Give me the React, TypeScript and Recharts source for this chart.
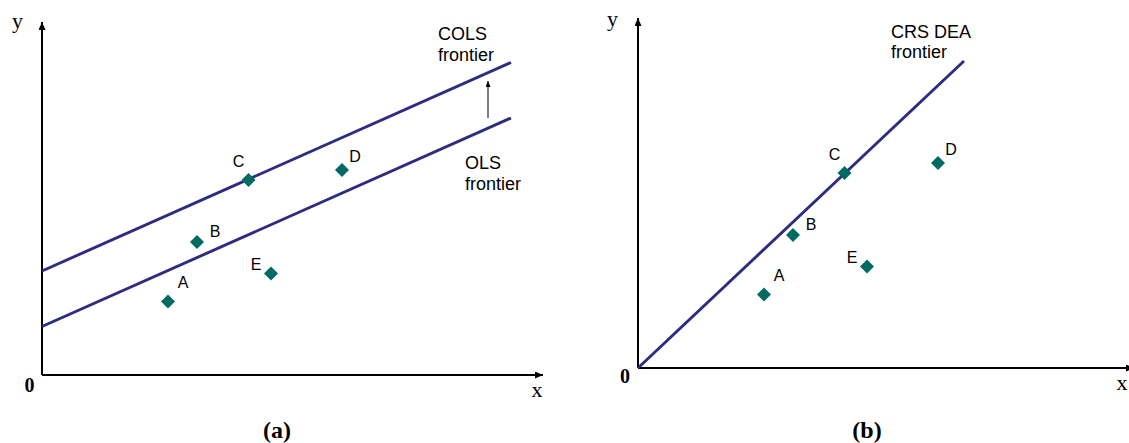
import { ReferenceLine, Scatter, ScatterChart, XAxis, YAxis } from "recharts";

// five firms, same observations in both panels
const firmNames = ["A", "B", "C", "D", "E"];
const firmInputs = [25.2, 31, 41.3, 60, 45.8];
const firmOutputs = [14.7, 26.6, 39, 41, 20.3];

// frontier end points (x, y)
const olsFrontierX = [0, 93.8];
const olsFrontierY = [9.7, 51.4];
const colsFrontierX = [0, 93.8];
const colsFrontierY = [20.8, 62.5];
const crsFrontierX = [0, 65.2];
const crsFrontierY = [0, 61.4];

// the little "shift up" arrow between OLS and COLS
const colsShiftX = 89.2;
const colsShiftY = [51.4, 58.8];

const LINE_COLOR = "#2E2C80";
const MARKER_COLOR = "#006B63";
const SANS = "'Liberation Sans', Arial, sans-serif";
const SERIF = "'Liberation Serif', 'Times New Roman', serif";

const LABEL_OFFSETS: Record<string, [number, number]> = {
  A: [15, -19],
  B: [18, -11],
  C: [-10, -19],
  D: [13, -14],
  E: [-15, -9]
};

const firms = firmNames.map((name, i) => ({ name, x: firmInputs[i], y: firmOutputs[i] }));

function FirmMarker(props: any) {
  const { cx, cy, payload } = props;
  if (cx == null || cy == null) {
    return null;
  }
  const r = 7;
  const [dx, dy] = LABEL_OFFSETS[payload.name] ?? [12, -12];

  return (
    <g>
      <polygon points={`${cx},${cy - r} ${cx + r},${cy} ${cx},${cy + r} ${cx - r},${cy}`} fill={MARKER_COLOR} />
      <text
        x={cx + dx}
        y={cy + dy}
        textAnchor="middle"
        dominantBaseline="central"
        fontFamily={SANS}
        fontSize={16}
        fill="#000"
      >
        {payload.name}
      </text>
    </g>
  );
}

function arrowLine(markerId: string) {
  return (props: any) => (
    <line
      x1={props.x1}
      y1={props.y1}
      x2={props.x2}
      y2={props.y2}
      stroke={props.stroke}
      strokeWidth={props.strokeWidth}
      markerEnd={`url(#${markerId})`}
    />
  );
}

export default function App() {
  return (
    <div
      style={{
        position: "absolute",
        left: 0,
        top: 0,
        width: 1129,
        height: 443,
        overflow: "hidden",
        background: "#fff"
      }}
    >
      <svg width={0} height={0} style={{ position: "absolute" }}>
        <defs>
          <marker
            id="axis-arrow"
            viewBox="0 0 8 7"
            refX={8}
            refY={3.5}
            markerWidth={8}
            markerHeight={7}
            markerUnits="userSpaceOnUse"
            orient="auto"
          >
            <path d="M0,0 L8,3.5 L0,7 z" fill="#000" />
          </marker>
          <marker
            id="shift-arrow"
            viewBox="0 0 6 5"
            refX={6}
            refY={2.5}
            markerWidth={6}
            markerHeight={5}
            markerUnits="userSpaceOnUse"
            orient="auto"
          >
            <path d="M0,0 L6,2.5 L0,5 z" fill="#000" />
          </marker>
        </defs>
      </svg>

      {/* panel (a): OLS and COLS */}
      <div style={{ position: "absolute", left: 0, top: 0 }}>
        <ScatterChart width={570} height={443} margin={{ top: 15, right: 18, bottom: 68, left: 42 }}>
          <XAxis type="number" dataKey="x" domain={[0, 102]} allowDataOverflow hide />
          <YAxis type="number" dataKey="y" domain={[0, 72]} allowDataOverflow hide />
          <ReferenceLine
            segment={[{ x: 0, y: 0 }, { x: 100.2, y: 0 }]}
            stroke="#000"
            strokeWidth={2}
            shape={arrowLine("axis-arrow")}
          />
          <ReferenceLine
            segment={[{ x: 0, y: 0 }, { x: 0, y: 70.6 }]}
            stroke="#000"
            strokeWidth={2}
            shape={arrowLine("axis-arrow")}
          />
          <ReferenceLine
            segment={[
              { x: colsFrontierX[0], y: colsFrontierY[0] },
              { x: colsFrontierX[1], y: colsFrontierY[1] }
            ]}
            stroke={LINE_COLOR}
            strokeWidth={2.9}
          />
          <ReferenceLine
            segment={[
              { x: olsFrontierX[0], y: olsFrontierY[0] },
              { x: olsFrontierX[1], y: olsFrontierY[1] }
            ]}
            stroke={LINE_COLOR}
            strokeWidth={2.9}
          />
          <ReferenceLine
            segment={[
              { x: colsShiftX, y: colsShiftY[0] },
              { x: colsShiftX, y: colsShiftY[1] }
            ]}
            stroke="#000"
            strokeWidth={1}
            shape={arrowLine("shift-arrow")}
          />
          <Scatter data={firms} shape={<FirmMarker />} isAnimationActive={false} />
        </ScatterChart>
      </div>

      {/* panel (b): CRS DEA */}
      <div style={{ position: "absolute", left: 570, top: 0 }}>
        <ScatterChart width={570} height={443} margin={{ top: 13, right: 2, bottom: 75, left: 68 }}>
          <XAxis type="number" dataKey="x" domain={[0, 100]} allowDataOverflow hide />
          <YAxis type="number" dataKey="y" domain={[0, 71]} allowDataOverflow hide />
          <ReferenceLine
            segment={[{ x: 0, y: 0 }, { x: 99.2, y: 0 }]}
            stroke="#000"
            strokeWidth={2}
            shape={arrowLine("axis-arrow")}
          />
          <ReferenceLine
            segment={[{ x: 0, y: 0 }, { x: 0, y: 70 }]}
            stroke="#000"
            strokeWidth={2}
            shape={arrowLine("axis-arrow")}
          />
          <ReferenceLine
            segment={[
              { x: crsFrontierX[0], y: crsFrontierY[0] },
              { x: crsFrontierX[1], y: crsFrontierY[1] }
            ]}
            stroke={LINE_COLOR}
            strokeWidth={2.9}
          />
          <Scatter data={firms} shape={<FirmMarker />} isAnimationActive={false} />
        </ScatterChart>
      </div>

      {/* axis names, frontier notes, captions */}
      <svg
        width={1129}
        height={443}
        style={{ position: "absolute", left: 0, top: 0, pointerEvents: "none" }}
      >
        <g fontFamily={SERIF} fontSize={22} fill="#000">
          <text x={17.5} y={28} textAnchor="middle">y</text>
          <text x={537} y={397} textAnchor="middle">x</text>
          <text x={612.5} y={26} textAnchor="middle">y</text>
          <text x={1122} y={390} textAnchor="middle">x</text>
        </g>
        <g fontFamily={SERIF} fontSize={20} fontWeight="bold" fill="#000">
          <text x={29.5} y={392} textAnchor="middle">0</text>
          <text x={625} y={383} textAnchor="middle">0</text>
        </g>
        <g fontFamily={SANS} fontSize={18} fill="#000">
          <text x={438} y={40}>COLS</text>
          <text x={438} y={60.5}>frontier</text>
          <text x={465} y={169}>OLS</text>
          <text x={465} y={189.5}>frontier</text>
          <text x={891} y={37.5}>CRS DEA</text>
          <text x={891} y={57.5}>frontier</text>
        </g>
        <g fontFamily={SERIF} fontSize={24} fontWeight="bold" fill="#000">
          <text x={277} y={438} textAnchor="middle">(a)</text>
          <text x={867} y={438} textAnchor="middle">(b)</text>
        </g>
      </svg>
    </div>
  );
}
